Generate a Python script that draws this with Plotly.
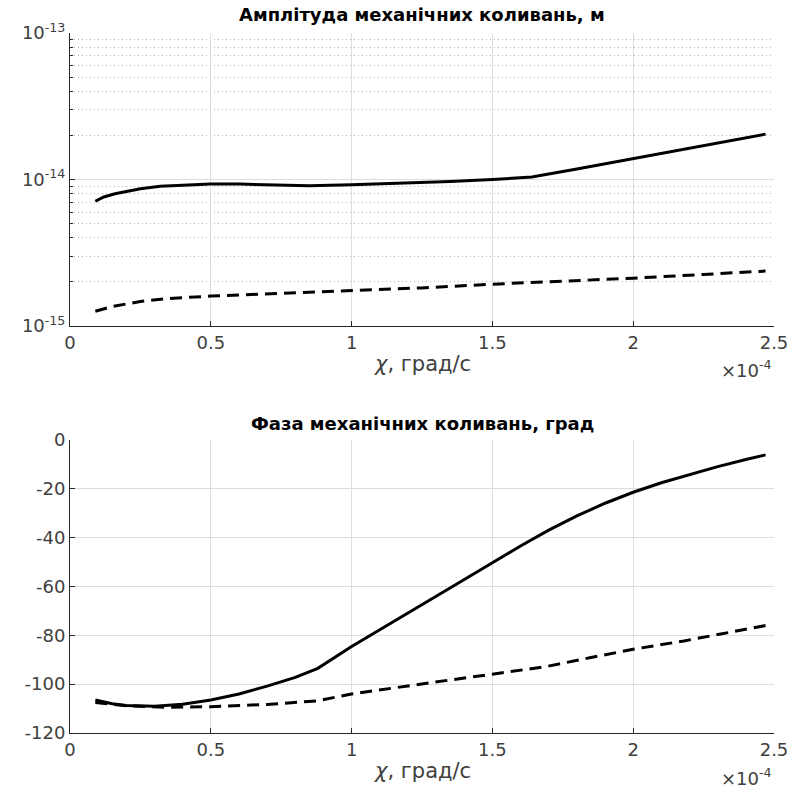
import plotly.graph_objects as go

# chi in units of 1e-4 grad/s
amp_solid_x = [0.09, 0.12, 0.16, 0.2, 0.25, 0.32, 0.41, 0.5, 0.6, 0.7, 0.85, 1.0, 1.2, 1.35, 1.5, 1.64, 1.8, 2.0, 2.2, 2.47]
amp_solid_y = [7.1e-15, 7.6e-15, 8.0e-15, 8.3e-15, 8.65e-15, 9.0e-15, 9.2e-15, 9.3e-15, 9.3e-15, 9.2e-15,
               9.06e-15, 9.2e-15, 9.43e-15, 9.7e-15, 1.0e-14, 1.04e-14, 1.18e-14, 1.39e-14, 1.64e-14, 2.04e-14]

amp_dash_x = [0.09, 0.15, 0.25, 0.35, 0.5, 0.7, 0.9, 1.0, 1.25, 1.5, 1.75, 2.0, 2.25, 2.47]
amp_dash_y = [1.26e-15, 1.36e-15, 1.47e-15, 1.54e-15, 1.6e-15, 1.66e-15, 1.71e-15, 1.74e-15,
              1.82e-15, 1.93e-15, 2.02e-15, 2.12e-15, 2.25e-15, 2.37e-15]

ph_solid_x = [0.09, 0.15, 0.2, 0.3, 0.4, 0.5, 0.6, 0.7, 0.8, 0.88, 1.0, 1.16, 1.36, 1.5, 1.6, 1.7,
              1.8, 1.9, 2.0, 2.1, 2.2, 2.3, 2.4, 2.47]
ph_solid_y = [-106.5, -108, -108.7, -109, -108.2, -106.5, -104, -100.8, -97.2, -93.5, -84.6, -73.5,
              -59.9, -50.3, -43.4, -36.9, -31.1, -25.9, -21.4, -17.5, -14.1, -10.9, -8.0, -6.1]

ph_dash_x = [0.09, 0.2, 0.35, 0.5, 0.7, 0.88, 1.0, 1.2, 1.355, 1.5, 1.69, 1.85, 2.0, 2.18, 2.34, 2.47]
ph_dash_y = [-107.5, -108.8, -109.5, -109.2, -108.3, -106.8, -104, -100.9, -98.2, -95.9, -92.8, -89.1,
             -85.7, -82.3, -78.9, -76]

x_ticks = [0, 0.5, 1, 1.5, 2, 2.5]
x_ticklabels = ["0", "0.5", "1", "1.5", "2", "2.5"]
amp_ticks = [1e-15, 1e-14, 1e-13]
amp_ticklabels = ["10<sup>-15</sup>", "10<sup>-14</sup>", "10<sup>-13</sup>"]
ph_ticks = [0, -20, -40, -60, -80, -100, -120]
ph_ticklabels = ["0", "-20", "-40", "-60", "-80", "-100", "-120"]

title_top = "Амплітуда механічних коливань, м"
title_bot = "Фаза механічних коливань, град"
xlabel = "<i>χ</i>, град/с"
xexp = "×10<sup>-4</sup>"

W, H = 790, 792
ML, MR, MT, MB = 70, 16, 33, 59
PH = H - MT - MB


def py(p):
    return (H - MB - p) / PH


AX = "#262626"
GRID = "#dedede"
TXT = "#404040"
TICKFONT = dict(family="DejaVu Sans", size=18, color=TXT)

fig = go.Figure()
line_solid = dict(color="black", width=3)
line_dash = dict(color="black", width=3, dash="12px,7px")

fig.add_trace(go.Scatter(x=amp_solid_x, y=amp_solid_y, mode="lines", line=line_solid, xaxis="x", yaxis="y"))
fig.add_trace(go.Scatter(x=amp_dash_x, y=amp_dash_y, mode="lines", line=line_dash, xaxis="x", yaxis="y"))
fig.add_trace(go.Scatter(x=ph_solid_x, y=ph_solid_y, mode="lines", line=line_solid, xaxis="x2", yaxis="y2"))
fig.add_trace(go.Scatter(x=ph_dash_x, y=ph_dash_y, mode="lines", line=line_dash, xaxis="x2", yaxis="y2"))

xcommon = dict(range=[0, 2.5], tickvals=x_ticks, ticktext=x_ticklabels, ticks="inside", ticklen=5,
               tickcolor=AX, showline=True, linecolor=AX, linewidth=1, showgrid=True, gridcolor=GRID,
               zeroline=False, tickfont=TICKFONT, mirror=False, automargin=False)

fig.update_layout(
    width=W, height=H, showlegend=False,
    margin=dict(l=ML, r=MR, t=MT, b=MB),
    plot_bgcolor="white", paper_bgcolor="white",
    xaxis=dict(domain=[0, 1], anchor="y", **xcommon),
    xaxis2=dict(domain=[0, 1], anchor="y2", **xcommon),
    yaxis=dict(domain=[py(326), 1], anchor="x", type="log", range=[-15, -13], automargin=False,
               tickvals=amp_ticks, ticktext=amp_ticklabels, ticks="inside", ticklen=5, tickcolor=AX,
               showline=True, linecolor=AX, linewidth=1, showgrid=True, gridcolor=GRID, zeroline=False,
               tickfont=TICKFONT,
               minor=dict(tickvals=[k * 10.0 ** e for e in (-15, -14) for k in range(2, 10)],
                          ticks="inside", ticklen=3, tickcolor=AX, showgrid=True,
                          gridcolor="#b4b4b4", griddash="1px,3px", gridwidth=1)),
    yaxis2=dict(domain=[0, py(440)], anchor="x2", range=[-120, 0], tickvals=ph_ticks,
                ticktext=ph_ticklabels, automargin=False,
                ticks="inside", ticklen=5, tickcolor=AX, showline=True, linecolor=AX, linewidth=1,
                showgrid=True, gridcolor=GRID, zeroline=False, tickfont=TICKFONT),
)

ann = []
TFONT = dict(family="DejaVu Sans", size=18, color="black")
ann.append(dict(text="<b>" + title_top + "</b>", x=0.5, y=py(15), xref="paper", yref="paper",
                yanchor="middle", showarrow=False, font=TFONT))
ann.append(dict(text="<b>" + title_bot + "</b>", x=0.5, y=py(424), xref="paper", yref="paper",
                yanchor="middle", showarrow=False, font=TFONT))
for yl, ye in ((364, 369), (771, 777)):
    ann.append(dict(text=xlabel, x=0.5, y=py(yl), xref="paper", yref="paper", showarrow=False,
                    yanchor="middle", font=dict(family="DejaVu Sans", size=21, color=TXT)))
    ann.append(dict(text=xexp, x=1.0, y=py(ye), xref="paper", yref="paper", showarrow=False,
                    xanchor="right", yanchor="middle", font=dict(family="DejaVu Sans", size=18, color=TXT)))
fig.update_layout(annotations=ann)

fig.write_html("out.html", config={"displayModeBar": False},
               post_script="document.body.style.margin='0px';document.body.style.padding='0px';")
